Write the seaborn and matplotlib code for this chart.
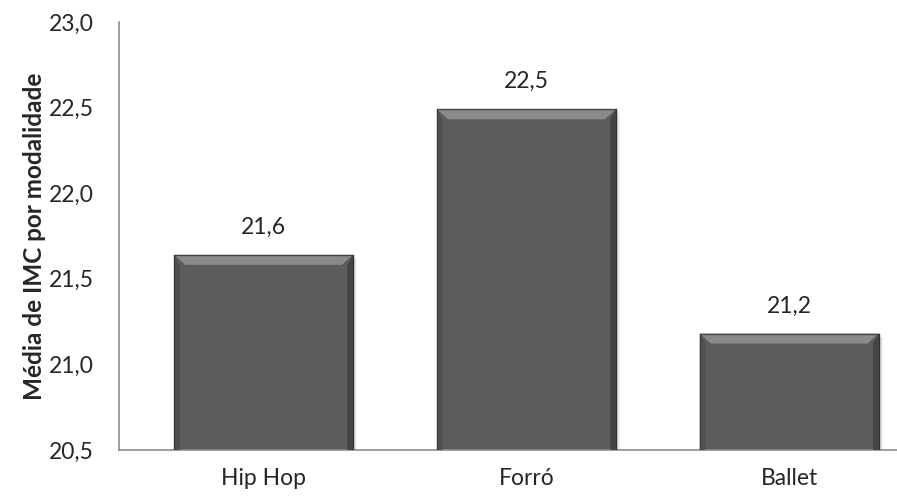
import matplotlib
matplotlib.use("Agg")
import matplotlib.pyplot as plt
from matplotlib.patches import Polygon, Rectangle
import seaborn as sns
import pandas as pd

categorias = ["Hip Hop", "Forró", "Ballet"]
imc_medio = [21.64, 22.49, 21.18]
yticks = [20.5, 21.0, 21.5, 22.0, 22.5, 23.0]

sns.set_style("white")
plt.rcParams["font.family"] = ["Lato", "DejaVu Sans"]

df = pd.DataFrame({"modalidade": categorias, "imc": imc_medio})

fig = plt.figure(figsize=(8.97, 4.97), dpi=100)
ax = fig.add_axes([119 / 897, 47 / 497, 1 - 119 / 897, 428 / 497])

sns.barplot(data=df, x="modalidade", y="imc", color="#5c5c5c", width=0.68,
            saturation=1, ax=ax, zorder=2)

ax.set_ylim(20.5, 23.0)
ax.set_xlim(-0.55, 2.41)
ax.set_yticks(yticks)
ax.set_yticklabels([f"{v:.1f}".replace(".", ",") for v in yticks], fontsize=16.5)
ax.tick_params(axis="x", labelsize=16.5, length=0, pad=13)
ax.tick_params(axis="y", length=0, pad=18)
ax.set_xlabel("")
ax.set_ylabel("Média de IMC por modalidade", fontsize=17.5, fontweight="bold", labelpad=2)

for side in ["top", "right"]:
    ax.spines[side].set_visible(False)
for side in ["left", "bottom"]:
    ax.spines[side].set_color("#8c8c8c")
    ax.spines[side].set_linewidth(1.2)

# pixel -> data unit conversion for the bevel effect
px_x = (2.41 + 0.55) / (897 - 119)
px_y = (23.0 - 20.5) / 428
bx, by = 11 * px_x, 10 * px_y

for bar, val in zip(ax.patches, imc_medio):
    x0 = bar.get_x()
    x1 = x0 + bar.get_width()
    y0 = 20.5
    y1 = bar.get_height()
    bar.set_edgecolor("none")
    # soft drop shadow
    for k, a in enumerate([0.10, 0.07, 0.04]):
        d = (k + 1) * 1.5
        ax.add_patch(Rectangle((x0 + d * px_x, y0), x1 - x0, y1 - y0 - d * px_y,
                               facecolor="black", alpha=a, edgecolor="none", zorder=1))
    # bevel faces
    top = Polygon([(x0, y1), (x1, y1), (x1 - bx, y1 - by), (x0 + bx, y1 - by)],
                  facecolor="#8a8a8a", edgecolor="none", zorder=3)
    left = Polygon([(x0, y1), (x0 + bx * 0.5, y1 - by), (x0 + bx * 0.5, y0), (x0, y0)],
                   facecolor="#505050", edgecolor="none", zorder=3)
    right = Polygon([(x1, y1), (x1 - bx * 0.5, y1 - by), (x1 - bx * 0.5, y0), (x1, y0)],
                    facecolor="#444444", edgecolor="none", zorder=3)
    for p in (top, left, right):
        ax.add_patch(p)
    ax.plot([x0, x1], [y1, y1], color="#444444", lw=1, zorder=4)
    ax.plot([x0, x0], [y0, y1], color="#3a3a3a", lw=1, zorder=4)
    ax.plot([x1, x1], [y0, y1], color="#2e2e2e", lw=1, zorder=4)
    ax.text(bar.get_x() + bar.get_width() / 2, y1 + 17 * px_y,
            f"{val:.1f}".replace(".", ","), ha="center", va="bottom", fontsize=16.5)

fig.savefig("out.png", dpi=100)
